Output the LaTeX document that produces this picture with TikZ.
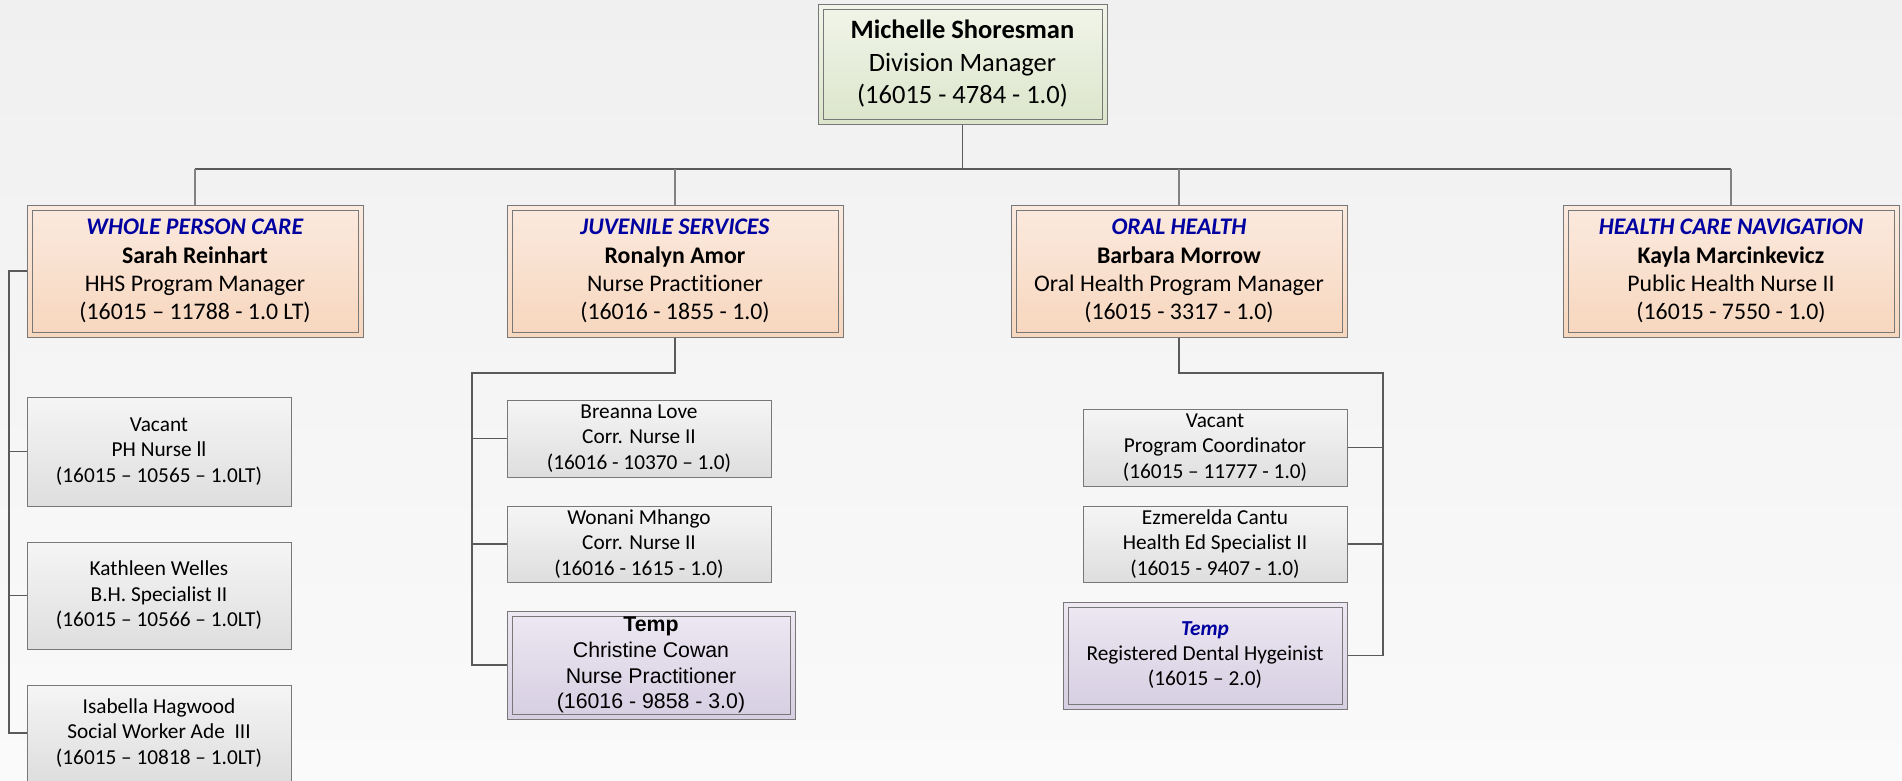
\documentclass[tikz,border=0pt]{standalone}
\usepackage{fontspec}
\setmainfont{Carlito}[Ligatures={NoCommon}]
\newfontfamily\arialf{Liberation Sans}
\definecolor{bgtop}{RGB}{240,240,240}
\definecolor{bgbot}{RGB}{250,250,250}
\definecolor{linec}{RGB}{90,90,90}
\definecolor{droplc}{RGB}{130,130,130}
\definecolor{borderc}{RGB}{120,120,120}
\definecolor{titleblue}{RGB}{0,0,160}
\definecolor{greentop}{RGB}{241,245,233}
\definecolor{greenbot}{RGB}{220,229,203}
\definecolor{peachtop}{RGB}{251,234,223}
\definecolor{peachbot}{RGB}{247,214,189}
\definecolor{graytop}{RGB}{245,245,245}
\definecolor{graybot}{RGB}{222,222,222}
\definecolor{lavtop}{RGB}{237,232,242}
\definecolor{lavbot}{RGB}{214,206,226}
\tikzset{
  conn/.style={draw=linec, line width=1.1pt},
  drop/.style={draw=droplc, line width=1.1pt},
  box/.style={draw=borderc, line width=1pt, align=center, inner sep=0pt},
  dbl/.style={path picture={\draw[borderc, line width=1pt]
      ([shift={(5pt,-5pt)}]path picture bounding box.north west) rectangle
      ([shift={(-5pt,5pt)}]path picture bounding box.south east);}},
  topbox/.style={box, dbl, top color=greentop, bottom color=greenbot,
      minimum width=289pt, minimum height=120pt, font=\fontsize{26.5}{32.5}\selectfont},
  headbox/.style={box, dbl, top color=peachtop, bottom color=peachbot,
      minimum width=336pt, minimum height=132pt, font=\fontsize{23.8}{28.3}\selectfont},
  childbox/.style={box, top color=graytop, bottom color=graybot,
      minimum width=264pt, font=\fontsize{21.3}{25.5}\selectfont},
  tempbox/.style={box, dbl, top color=lavtop, bottom color=lavbot},
}
\newcommand{\unittitle}[1]{\textcolor{titleblue}{\textbf{\textit{#1}}}}
\begin{document}
\begin{tikzpicture}[x=1pt,y=-1pt]
\useasboundingbox (0,0) rectangle (1902,780);
\fill[top color=bgtop, bottom color=bgbot] (0,0) rectangle (1902,780);

% top
\node[topbox] (top) at (962.5,64) {\textbf{Michelle Shoresman}\\Division Manager\\(16015 - 4784 - 1.0)};

% level 2
\node[headbox] (wpc) at (195,271) {\unittitle{WHOLE PERSON CARE}\\\textbf{Sarah Reinhart}\\HHS Program Manager\\(16015 – 11788 - 1.0 LT)};
\node[headbox] (juv) at (675,271) {\unittitle{JUVENILE SERVICES}\\\textbf{Ronalyn Amor}\\Nurse Practitioner\\(16016 - 1855 - 1.0)};
\node[headbox] (oral) at (1179,271) {\unittitle{ORAL HEALTH}\\\textbf{Barbara Morrow}\\Oral Health Program Manager\\(16015 - 3317 - 1.0)};
\node[headbox] (hcn) at (1731,271) {\unittitle{HEALTH CARE NAVIGATION}\\\textbf{Kayla Marcinkevicz}\\Public Health Nurse II\\(16015 - 7550 - 1.0)};

% whole person care children
\node[childbox, minimum height=109pt] (w1) at (159,451.5) {Vacant\\PH Nurse ll\\(16015 – 10565 – 1.0LT)};
\node[childbox, minimum height=107pt] (w2) at (159,595.5) {Kathleen Welles\\B.H. Specialist II\\(16015 – 10566 – 1.0LT)};
\node[childbox, minimum height=96pt] (w3) at (159,733) {Isabella Hagwood\\Social Worker Ade~ III\\(16015 – 10818 – 1.0LT)};

% juvenile children
\node[childbox, minimum height=77pt] (j1) at (639,438.5) {Breanna Love\\Corr. Nurse II\\(16016 - 10370 – 1.0)};
\node[childbox, minimum height=76pt] (j2) at (639,544) {Wonani Mhango\\Corr. Nurse II\\(16016 - 1615 - 1.0)};
\node[tempbox, minimum width=288pt, minimum height=108pt, font=\arialf\fontsize{21.3}{25.8}\selectfont] (j3) at (651,665) {\textbf{Temp}\\Christine Cowan\\Nurse Practitioner\\(16016 - 9858 - 3.0)};

% oral health children
\node[childbox, minimum height=77pt] (o1) at (1215,447.5) {Vacant\\Program Coordinator\\(16015 – 11777 - 1.0)};
\node[childbox, minimum height=76pt] (o2) at (1215,544) {Ezmerelda Cantu\\Health Ed Specialist II\\(16015 - 9407 - 1.0)};
\node[tempbox, minimum width=284pt, minimum height=107pt, font=\fontsize{21.3}{25}\selectfont] (o3) at (1205,655.5) {\unittitle{Temp}\\Registered Dental Hygeinist\\(16015 – 2.0)};

% connectors
\coordinate (busL) at (195,169);
\draw[conn] (top.south) -- (top.south |- busL);
\draw[conn] (wpc.north |- busL) -- (hcn.north |- busL);
\draw[drop] (wpc.north |- busL) -- (wpc.north);
\draw[drop] (juv.north |- busL) -- (juv.north);
\draw[drop] (oral.north |- busL) -- (oral.north);
\draw[drop] (hcn.north |- busL) -- (hcn.north);

\coordinate (wx) at (9,0);
\draw[conn] (wpc.west) -| (wx |- w3.west) -- (w3.west);
\draw[conn] (wx |- w1.west) -- (w1.west);
\draw[conn] (wx |- w2.west) -- (w2.west);

\coordinate (jx) at (472,373);
\draw[conn] (juv.south) |- (jx) |- (j3.west);
\draw[conn] (jx |- j1.west) -- (j1.west);
\draw[conn] (jx |- j2.west) -- (j2.west);

\coordinate (ox) at (1383,373);
\draw[conn] (oral.south) |- (ox) |- (o3.east);
\draw[conn] (o1.east) -- (ox |- o1.east);
\draw[conn] (o2.east) -- (ox |- o2.east);
\end{tikzpicture}
\end{document}
